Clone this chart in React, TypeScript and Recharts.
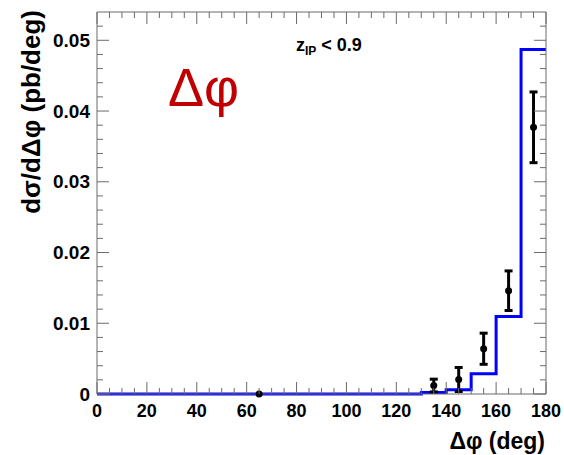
import { ComposedChart, Line, Scatter, ErrorBar, XAxis, YAxis } from 'recharts';

// histogram (MC prediction), 10 deg bins from 0 to 180
const binEdges = [0, 10, 20, 30, 40, 50, 60, 70, 80, 90, 100, 110, 120, 130, 140, 150, 160, 170, 180];
const binValues = [0, 0, 0, 0, 0, 0, 0, 0, 0, 0, 0, 0, 0, 0.0002, 0.0006, 0.00285, 0.01095, 0.0487];

// measured points
const pointX = [65, 135, 145, 155, 165, 175];
const pointY = [0, 0.0012, 0.00205, 0.0064, 0.0146, 0.0377];
const pointErr = [0, 0.0009, 0.0017, 0.0022, 0.0028, 0.005];

const xTicks = [0, 5, 10, 15, 20, 25, 30, 35, 40, 45, 50, 55, 60, 65, 70, 75, 80, 85, 90, 95, 100, 105, 110, 115, 120, 125, 130, 135, 140, 145, 150, 155, 160, 165, 170, 175, 180];
const xLabels = [0, 20, 40, 60, 80, 100, 120, 140, 160, 180];
const yTicks = [0, 0.002, 0.004, 0.006, 0.008, 0.01, 0.012, 0.014, 0.016, 0.018, 0.02, 0.022, 0.024, 0.026, 0.028, 0.03, 0.032, 0.034, 0.036, 0.038, 0.04, 0.042, 0.044, 0.046, 0.048, 0.05, 0.052];
const yLabels = [0, 0.01, 0.02, 0.03, 0.04, 0.05];

const histData = binEdges.map((x, i) => ({ x, y: binValues[Math.min(i, binValues.length - 1)] }));
const pointData = pointX.map((x, i) => ({ x, y: pointY[i], err: pointErr[i] }));

const FONT = '"Liberation Sans", Arial, sans-serif';
const FRAME = '#6b6b6b';

const isMajorY = (v: number) => yLabels.some((l) => Math.abs(l - v) < 1e-9);

function BottomTick(props: any) {
  const { x, y, payload } = props;
  const major = xLabels.includes(payload.value);
  return (
    <g>
      <line x1={x} x2={x} y1={y} y2={y - (major ? 12 : 6)} stroke={FRAME} />
      {major && (
        <text x={x} y={y + 23} textAnchor="middle" fontFamily={FONT} fontWeight="bold" fontSize={18} fill="#000">
          {payload.value}
        </text>
      )}
    </g>
  );
}

function TopTick(props: any) {
  const { x, y, payload } = props;
  const major = xLabels.includes(payload.value);
  return <line x1={x} x2={x} y1={y} y2={y + (major ? 12 : 6)} stroke={FRAME} />;
}

function LeftTick(props: any) {
  const { x, y, payload } = props;
  const major = isMajorY(payload.value);
  return (
    <g>
      <line x1={x} x2={x + (major ? 12 : 6)} y1={y} y2={y} stroke={FRAME} />
      {major && (
        <text x={x - 7} y={y} dy="0.35em" textAnchor="end" fontFamily={FONT} fontWeight="bold" fontSize={19} fill="#000">
          {payload.value}
        </text>
      )}
    </g>
  );
}

function RightTick(props: any) {
  const { x, y, payload } = props;
  const major = isMajorY(payload.value);
  return <line x1={x} x2={x - (major ? 12 : 6)} y1={y} y2={y} stroke={FRAME} />;
}

function Dot(props: any) {
  const { cx, cy } = props;
  return <circle cx={cx} cy={cy} r={3.5} fill="#000" />;
}

export default function App() {
  return (
    <div style={{ position: 'absolute', left: 0, top: 0, width: 564, height: 455, background: '#fff' }}>
      <ComposedChart width={564} height={455} margin={{ top: 11, right: 17, left: 0, bottom: 31 }}>
        <XAxis
          type="number"
          dataKey="x"
          domain={[0, 180]}
          ticks={xTicks}
          interval={0}
          tickSize={0}
          tickMargin={0}
          tickLine={false}
          height={30}
          axisLine={{ stroke: FRAME }}
          tick={<BottomTick />}
        />
        <XAxis
          xAxisId="top"
          orientation="top"
          type="number"
          dataKey="x"
          domain={[0, 180]}
          ticks={xTicks}
          interval={0}
          tickSize={0}
          tickMargin={0}
          tickLine={false}
          height={1}
          axisLine={{ stroke: FRAME }}
          tick={<TopTick />}
        />
        <YAxis
          type="number"
          domain={[0, 0.054]}
          ticks={yTicks}
          interval={0}
          tickSize={0}
          tickMargin={0}
          tickLine={false}
          width={97}
          axisLine={{ stroke: FRAME }}
          tick={<LeftTick />}
        />
        <YAxis
          yAxisId="right"
          orientation="right"
          type="number"
          domain={[0, 0.054]}
          ticks={yTicks}
          interval={0}
          tickSize={0}
          tickMargin={0}
          tickLine={false}
          width={1}
          axisLine={{ stroke: FRAME }}
          tick={<RightTick />}
        />
        <Line
          xAxisId="top"
          yAxisId="right"
          data={histData}
          dataKey="y"
          type="stepAfter"
          stroke="#0000ff"
          strokeWidth={3}
          dot={false}
          isAnimationActive={false}
        />
        <Scatter data={pointData} dataKey="y" shape={<Dot />} isAnimationActive={false}>
          <ErrorBar dataKey="err" direction="y" width={4} stroke="#000" strokeWidth={3} isAnimationActive={false} />
        </Scatter>
      </ComposedChart>
      <svg width={564} height={455} style={{ position: 'absolute', left: 0, top: 0, pointerEvents: 'none' }}>
        <text x={545} y={449} textAnchor="end" fontFamily={FONT} fontWeight="bold" fontSize={23} fill="#000">
          Δφ (deg)
        </text>
        <text transform="translate(40,10) rotate(-90)" textAnchor="end" fontFamily={FONT} fontWeight="bold" fontSize={26} fill="#000">
          dσ/dΔφ (pb/deg)
        </text>
        <text x={296} y={51} fontFamily={FONT} fontWeight="bold" fontSize={18} fill="#000">
          z<tspan fontSize={12} dy={4}>IP</tspan>
          <tspan dy={-4}> &lt; 0.9</tspan>
        </text>
        <text x={168} y={106} fontFamily={FONT} fontSize={54} fill="#c00000">
          Δφ
        </text>
      </svg>
    </div>
  );
}
